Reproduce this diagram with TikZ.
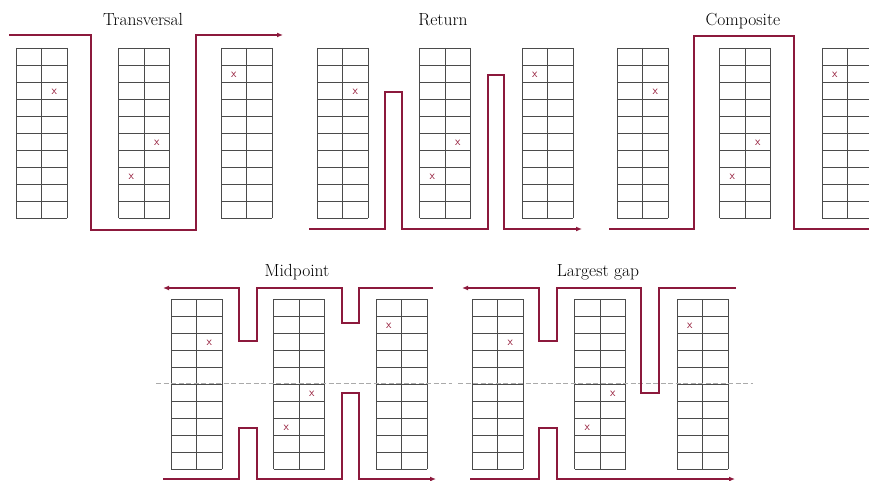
\documentclass[tikz,border=0pt]{standalone}
\usetikzlibrary{arrows.meta}
\definecolor{pathred}{RGB}{140,25,60}
\definecolor{markred}{RGB}{150,30,60}
\definecolor{rackgray}{RGB}{75,75,75}
\definecolor{dashgray}{RGB}{170,170,170}
\tikzset{
  rackline/.style={draw=rackgray,line width=0.65pt},
  route/.style={draw=pathred,line width=1.5pt,line join=miter},
  routearrow/.style={route,-{Latex[length=6pt,width=5pt]}},
  xmark/.style={text=markred,font=\sffamily\fontsize{12}{12}\selectfont,inner sep=0pt},
  title/.style={font=\fontsize{17.5}{20}\selectfont,anchor=base,inner sep=0pt},
  midline/.style={draw=dashgray,line width=1pt,dash pattern=on 5pt off 2.5pt}
}
\newcommand\myrack[2]{%
  \foreach \i in {0,...,10}{\draw[rackline] (#1,#2+17*\i) -- (#1+51,#2+17*\i);}
  \draw[rackline] (#1,#2) -- (#1,#2+170);
  \draw[rackline] (#1+25.5,#2) -- (#1+25.5,#2+170);
  \draw[rackline] (#1+51,#2) -- (#1+51,#2+170);
}
\newcommand\mypanel[3]{%
  \myrack{#1}{#2}
  \myrack{#1+102.5}{#2}
  \myrack{#1+205}{#2}
  \node[xmark] (#3a) at (#1+38.25,#2+44) {x};
  \node[xmark] (#3b) at (#1+140.75,#2+95) {x};
  \node[xmark] (#3c) at (#1+115.25,#2+129) {x};
  \node[xmark] (#3d) at (#1+217.75,#2+27) {x};
}
\begin{document}
\begin{tikzpicture}[x=1pt,y=-1pt]
\useasboundingbox (0,0) rectangle (869,481);
\clip (0,0) rectangle (869,481);
% titles
\node[title] (t1) at (143,26) {Transversal};
\node[title] (t2) at (443,26) {Return};
\node[title] (t3) at (743,26) {Composite};
\node[title] (t4) at (297,276) {Midpoint};
\node[title] (t5) at (598,276) {Largest gap};
% racks
\mypanel{16}{48}{pa}
\mypanel{317}{48}{pb}
\mypanel{617}{48}{pc}
\mypanel{171}{299}{pd}
\mypanel{472}{299}{pe}
% midlines
\draw[midline] (156,383) -- (452,383);
\draw[midline] (458,383) -- (753,383);
% routes
\draw[routearrow] (9,35) -- (91,35) -- (91,230) -- (196,230) -- (196,35) -- (283,35);
\draw[routearrow] (309,229) -- (385,229) -- (385,92) -- (402,92) -- (402,229) -- (488,229) -- (488,75) -- (504,75) -- (504,229) -- (582,229);
\draw[route] (609,229) -- (694,229) -- (694,36) -- (794,36) -- (794,229) -- (885,229);
\draw[routearrow] (433,288) -- (359,288) -- (359,323) -- (342,323) -- (342,288) -- (257,288) -- (257,341) -- (239,341) -- (239,288) -- (163,288);
\draw[routearrow] (163,479) -- (239,479) -- (239,428) -- (257,428) -- (257,479) -- (342,479) -- (342,393) -- (359,393) -- (359,479) -- (436,479);
\draw[routearrow] (736,288) -- (659,288) -- (659,393) -- (641,393) -- (641,288) -- (557,288) -- (557,341) -- (539,341) -- (539,288) -- (462,288);
\draw[routearrow] (470,479) -- (539,479) -- (539,428) -- (557,428) -- (557,479) -- (735,479);
\end{tikzpicture}
\end{document}
